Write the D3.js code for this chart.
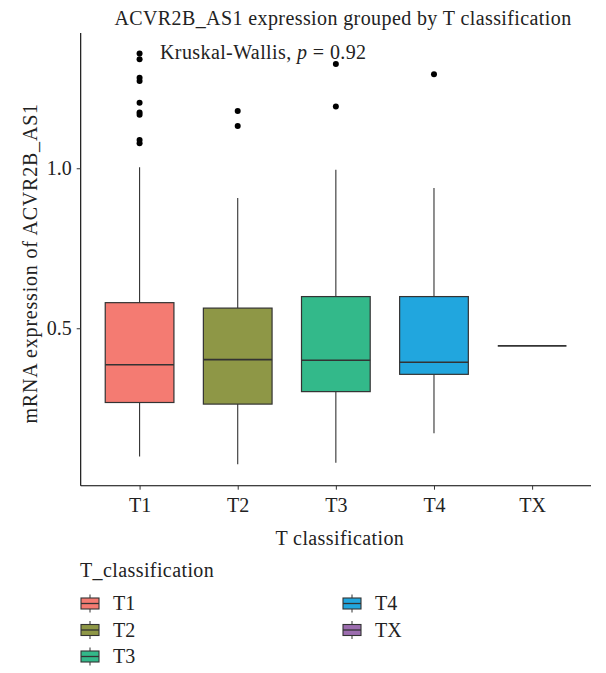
<!DOCTYPE html>
<html>
<head>
<meta charset="utf-8">
<script src="https://cdn.jsdelivr.net/npm/d3@7"></script>
<style>
  html, body { margin: 0; padding: 0; background: #fff; }
  svg { display: block; }
  text { font-family: "Liberation Serif", "Times New Roman", serif; fill: #222; }
</style>
</head>
<body>
<svg id="chart" width="606" height="673"></svg>
<script>
// ---- data ----
const categories = ["T1", "T2", "T3", "T4", "TX"];
const whiskerLow  = [0.099, 0.075, 0.080, 0.172, 0.445];
const q1          = [0.268, 0.263, 0.302, 0.356, 0.445];
const median      = [0.386, 0.402, 0.400, 0.394, 0.445];
const q3          = [0.580, 0.563, 0.599, 0.599, 0.445];
const whiskerHigh = [1.003, 0.907, 0.995, 0.938, 0.445];
const outliersT1 = [1.359, 1.341, 1.283, 1.273, 1.205, 1.174, 1.167, 1.088, 1.078];
const outliersT2 = [1.179, 1.132];
const outliersT3 = [1.326, 1.193];
const outliersT4 = [1.294];
const outliersTX = [];
const outliers = [outliersT1, outliersT2, outliersT3, outliersT4, outliersTX];
const colors = ["#F47B72", "#8E9746", "#33B98A", "#21A6DE", "#9C6DAF"];
const yTicks = [0.5, 1.0];
const titleText = "ACVR2B_AS1 expression grouped by T classification";
const yLabel = "mRNA expression of ACVR2B_AS1";
const xLabel = "T classification";
const legendTitle = "T_classification";
const pValue = "0.92";

// ---- layout ----
const svg = d3.select("#chart");
const pLeft = 80.7, pRight = 591, pTop = 33, pBottom = 485.7;
const FS = 20, LS = "0.4px";

// discrete x with ggplot-style 0.6 expansion on each side
const x = d3.scalePoint().domain(categories).range([pLeft, pRight]).padding(0.6);
const step = x.step();
const boxW = step * 0.7;

const y = d3.scaleLinear().domain([0.008, 1.4227]).range([pBottom, pTop]);

const data = categories.map((c, i) => ({
  cat: c, lo: whiskerLow[i], q1: q1[i], med: median[i], q3: q3[i], hi: whiskerHigh[i],
  out: outliers[i], color: colors[i]
}));

const g = svg.append("g");

// whiskers
g.selectAll("line.wh-up").data(data).join("line")
  .attr("x1", d => x(d.cat)).attr("x2", d => x(d.cat))
  .attr("y1", d => y(d.q3)).attr("y2", d => y(d.hi))
  .attr("stroke", "#333").attr("stroke-width", 1.1);
g.selectAll("line.wh-lo").data(data).join("line")
  .attr("x1", d => x(d.cat)).attr("x2", d => x(d.cat))
  .attr("y1", d => y(d.q1)).attr("y2", d => y(d.lo))
  .attr("stroke", "#333").attr("stroke-width", 1.1);

// boxes
g.selectAll("rect.box").data(data).join("rect")
  .attr("x", d => x(d.cat) - boxW / 2)
  .attr("width", boxW)
  .attr("y", d => y(d.q3))
  .attr("height", d => Math.max(0, y(d.q1) - y(d.q3)))
  .attr("fill", d => d.color)
  .attr("stroke", "#333").attr("stroke-width", 1.2);

// medians
g.selectAll("line.med").data(data).join("line")
  .attr("x1", d => x(d.cat) - boxW / 2).attr("x2", d => x(d.cat) + boxW / 2)
  .attr("y1", d => y(d.med)).attr("y2", d => y(d.med))
  .attr("stroke", "#333").attr("stroke-width", 1.6);

// outliers
data.forEach(d => {
  g.selectAll(null).data(d.out).join("circle")
    .attr("cx", x(d.cat)).attr("cy", v => y(v)).attr("r", 3)
    .attr("fill", "#000");
});

// axes
const yAxis = d3.axisLeft(y).tickValues(yTicks).tickFormat(d3.format(".1f")).tickSize(4).tickPadding(5);
const yg = svg.append("g").attr("transform", `translate(${pLeft},0)`).call(yAxis);
yg.select(".domain").attr("d", `M0,${pTop}V${pBottom}`).attr("stroke", "#000").attr("stroke-width", 1.1);
yg.selectAll(".tick line").attr("stroke", "#333");
yg.selectAll(".tick text").attr("font-size", FS).attr("fill", "#333")
  .style("font-family", '"Liberation Serif", serif');

const xAxis = d3.axisBottom(x).tickSize(4).tickPadding(8);
const xg = svg.append("g").attr("transform", `translate(0,${pBottom})`).call(xAxis);
xg.select(".domain").attr("d", `M${pLeft},0H${pRight}`).attr("stroke", "#000").attr("stroke-width", 1.1);
xg.selectAll(".tick line").attr("stroke", "#333");
xg.selectAll(".tick text").attr("font-size", FS).attr("fill", "#333")
  .style("font-family", '"Liberation Serif", serif');

// titles
svg.append("text").attr("x", 343).attr("y", 25).attr("text-anchor", "middle")
  .attr("font-size", FS).style("letter-spacing", LS).text(titleText);
svg.append("text").attr("transform", `translate(37,${(pTop + pBottom) / 2 + 4}) rotate(-90)`)
  .attr("text-anchor", "middle").attr("font-size", FS).style("letter-spacing", "0.8px").text(yLabel);
svg.append("text").attr("x", (pLeft + pRight) / 2 + 4).attr("y", 545).attr("text-anchor", "middle")
  .attr("font-size", FS).style("letter-spacing", LS).text(xLabel);

// annotation
const ann = svg.append("text").attr("x", 160).attr("y", 59).attr("font-size", FS).style("letter-spacing", LS);
ann.append("tspan").text("Kruskal-Wallis, ");
ann.append("tspan").attr("font-style", "italic").text("p");
ann.append("tspan").text(" = " + pValue);

// legend
svg.append("text").attr("x", 80).attr("y", 577).attr("font-size", FS).style("letter-spacing", LS).text(legendTitle);
const legendPos = [
  {kx: 81, ty: 603.5}, {kx: 81, ty: 630}, {kx: 81, ty: 656.5},
  {kx: 343, ty: 603.5}, {kx: 343, ty: 630}
];
const lg = svg.append("g");
data.forEach((d, i) => {
  const p = legendPos[i];
  const item = lg.append("g").attr("transform", `translate(${p.kx},${p.ty})`);
  item.append("line").attr("x1", 9).attr("x2", 9).attr("y1", -9).attr("y2", 9)
    .attr("stroke", "#333").attr("stroke-width", 1);
  item.append("rect").attr("x", 0).attr("y", -5.5).attr("width", 18).attr("height", 11)
    .attr("fill", d.color).attr("stroke", "#333").attr("stroke-width", 1.1);
  item.append("line").attr("x1", 0).attr("x2", 18).attr("y1", 0).attr("y2", 0)
    .attr("stroke", "#333").attr("stroke-width", 1.3);
  item.append("text").attr("x", 32).attr("y", 6.5).attr("font-size", FS).text(d.cat);
});
</script>
</body>
</html>
